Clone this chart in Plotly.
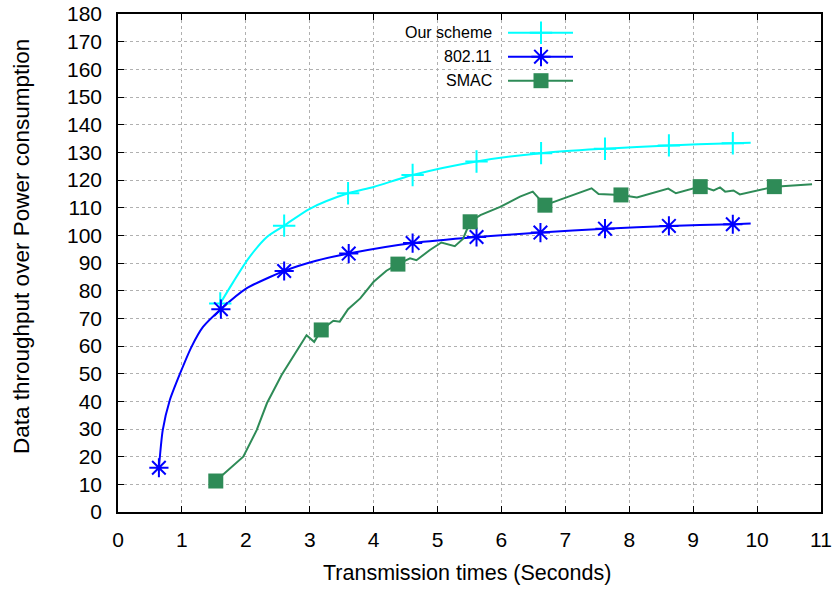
import plotly.graph_objects as go

# ---------------- data ----------------
# Our scheme (line samples + marker points)
ours_x = [1.60, 1.80, 2.04, 2.33, 2.60, 3.00, 3.60, 4.00, 4.61, 5.61, 6.62, 7.62, 8.62, 9.62, 9.90]
ours_y = [75.4, 83.0, 91.6, 99.4, 103.5, 109.6, 115.2, 117.5, 121.8, 126.7, 129.7, 131.3, 132.5, 133.3, 133.5]
ours_mx = [1.60, 2.60, 3.60, 4.61, 5.61, 6.62, 7.62, 8.62, 9.62]
ours_my = [75.4, 103.5, 115.2, 121.8, 126.7, 129.7, 131.3, 132.5, 133.3]

# 802.11
w_x = [0.64, 0.70, 0.81, 0.97, 1.15, 1.33, 1.61, 2.01, 2.60, 3.10, 3.61, 4.61, 5.61, 6.61, 7.62, 8.62, 9.62, 9.90]
w_y = [16.0, 29.6, 40.4, 50.0, 59.7, 66.9, 73.3, 80.8, 87.1, 90.8, 93.4, 97.2, 99.4, 101.0, 102.4, 103.4, 104.0, 104.3]
w_mx = [0.64, 1.61, 2.60, 3.61, 4.61, 5.61, 6.61, 7.62, 8.62, 9.62]
w_my = [16.0, 73.3, 87.1, 93.4, 97.2, 99.4, 101.0, 102.4, 103.4, 104.0]

# SMAC
s_x = [1.53, 1.96, 2.17, 2.33, 2.56, 2.69, 2.85, 2.95, 3.07, 3.18, 3.37, 3.47, 3.60, 3.79, 4.00,
       4.20, 4.38, 4.57, 4.67, 4.88, 5.06, 5.27, 5.40, 5.46, 5.51, 5.67, 5.98, 6.29, 6.49, 6.68,
       7.41, 7.52, 7.87, 8.12, 8.61, 8.73, 9.11, 9.22, 9.32, 9.42, 9.50, 9.63, 9.73, 10.27, 10.86]
s_y = [11.2, 20.0, 29.6, 39.3, 49.5, 54.3, 59.7, 63.9, 61.5, 65.8, 69.1, 68.8, 73.3, 77.2, 83.2,
       87.2, 89.6, 91.7, 91.0, 94.7, 97.4, 96.1, 98.8, 101.9, 104.9, 107.3, 110.3, 114.0, 115.8, 110.9,
       117.0, 114.9, 114.6, 113.7, 116.9, 115.2, 117.6, 117.0, 116.2, 117.3, 115.8, 116.2, 114.8, 117.6, 118.5]
s_mx = [1.53, 3.18, 4.38, 5.51, 6.68, 7.87, 9.11, 10.27]
s_my = [11.2, 65.8, 89.6, 104.9, 110.9, 114.6, 117.6, 117.6]

x_ticks = list(range(0, 12))
y_ticks = list(range(0, 181, 10))

names = ["Our scheme", "802.11", "SMAC"]
colors = ["#00FFFF", "#0000FF", "#2E8B57"]

FONT = "Liberation Sans, Arial, sans-serif"

symbols = [dict(symbol="cross-thin-open", size=16, color=colors[0], line=dict(color=colors[0], width=2)),
           dict(symbol="asterisk-open", size=16, color=colors[1], line=dict(color=colors[1], width=2)),
           dict(symbol="square", size=15, color=colors[2], line=dict(width=0))]

fig = go.Figure()

# lines
fig.add_trace(go.Scatter(x=ours_x, y=ours_y, mode="lines",
                         line=dict(color=colors[0], width=2, shape="spline", smoothing=0.8),
                         showlegend=False, hoverinfo="skip"))
fig.add_trace(go.Scatter(x=w_x, y=w_y, mode="lines",
                         line=dict(color=colors[1], width=2, shape="spline", smoothing=0.6),
                         showlegend=False, hoverinfo="skip"))
fig.add_trace(go.Scatter(x=s_x, y=s_y, mode="lines",
                         line=dict(color=colors[2], width=2),
                         showlegend=False, hoverinfo="skip"))

# markers
for mx, my, nm, sym in [(ours_mx, ours_my, names[0], symbols[0]),
                        (w_mx, w_my, names[1], symbols[1]),
                        (s_mx, s_my, names[2], symbols[2])]:
    fig.add_trace(go.Scatter(x=mx, y=my, mode="markers", name=nm, marker=sym, showlegend=False))

# ---------------- custom legend (gnuplot style: text left, key right) ----------------
L, R, T, B = 118, 15, 14, 78
W, H = 836 - L - R, 590 - T - B

def px_x(p):
    return (p - L) / W

def px_y(p):
    return (590 - B - p) / H

leg_rows = [32.7, 56.7, 80.7]
key_x0, key_x1, key_mid = px_x(508), px_x(573), px_x(541)
text_x = px_x(494)

for i, ry in enumerate(leg_rows):
    yy = px_y(ry)
    fig.add_trace(go.Scatter(x=[key_x0, key_x1], y=[yy, yy], mode="lines",
                             line=dict(color=colors[i], width=2), xaxis="x2", yaxis="y2",
                             showlegend=False, hoverinfo="skip"))
    fig.add_trace(go.Scatter(x=[key_mid], y=[yy], mode="markers", marker=symbols[i],
                             xaxis="x2", yaxis="y2", showlegend=False, hoverinfo="skip"))
    fig.add_annotation(x=text_x, y=yy, xref="paper", yref="paper", text=names[i],
                       showarrow=False, xanchor="right", yanchor="middle",
                       font=dict(family=FONT, size=16, color="black"))

# blank area behind legend (covers grid lines)
fig.add_shape(type="rect", xref="paper", yref="paper",
              x0=px_x(350), x1=px_x(586), y0=px_y(90), y1=1,
              fillcolor="white", line=dict(width=0), layer="between")

# y axis title as annotation
fig.add_annotation(x=px_x(21), y=px_y(247), xref="paper", yref="paper",
                   text="Data throughput over Power consumption", textangle=-90,
                   showarrow=False, xanchor="center", yanchor="middle",
                   font=dict(family=FONT, size=22.5, color="black"))

# x axis title as annotation
fig.add_annotation(x=px_x(467), y=px_y(573), xref="paper", yref="paper",
                   text="Transmission times (Seconds)",
                   showarrow=False, xanchor="center", yanchor="middle",
                   font=dict(family=FONT, size=21.5, color="black"))

axis_common = dict(showline=True, linecolor="black", linewidth=1.5, mirror="ticks",
                   ticks="inside", ticklen=6, tickwidth=1, tickcolor="black",
                   showgrid=True, gridcolor="#b0b0b0", griddash="dot", gridwidth=1,
                   zeroline=False, automargin=False,
                   tickfont=dict(family=FONT, size=21, color="black"))

fig.update_layout(
    width=836, height=590,
    margin=dict(l=L, r=R, t=T, b=B, pad=0, autoexpand=False),
    paper_bgcolor="white", plot_bgcolor="white",
    showlegend=False,
    xaxis=dict(range=[0, 11], tickvals=x_ticks, ticktext=[str(v) for v in x_ticks],
               ticklabelstandoff=8, **axis_common),
    yaxis=dict(range=[0, 180], tickvals=y_ticks, ticktext=[str(v) for v in y_ticks],
               ticklabelstandoff=10, **axis_common),
    xaxis2=dict(overlaying="x", range=[0, 1], visible=False, fixedrange=True),
    yaxis2=dict(overlaying="y", range=[0, 1], visible=False, fixedrange=True),
)

fig.write_html("out.html")
